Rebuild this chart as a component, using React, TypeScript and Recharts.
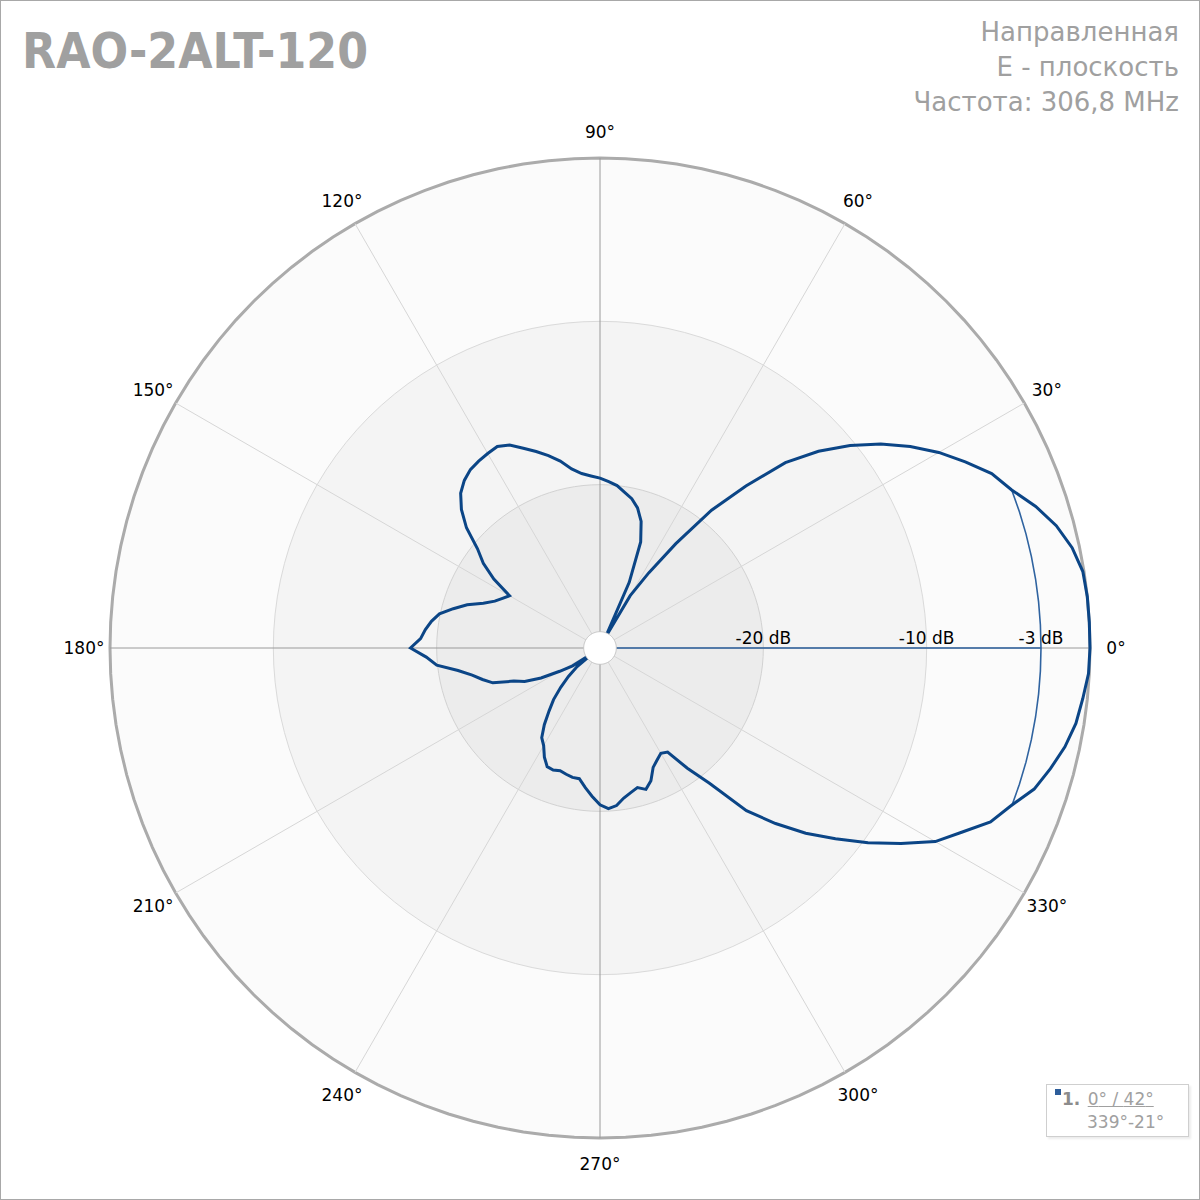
import React from "react";
import {
  RadarChart,
  Radar,
  PolarGrid,
  PolarAngleAxis,
  PolarRadiusAxis,
  Legend,
} from "recharts";

// measured every 3 degrees, counter-clockwise from 0°
const angles: number[] = [
  0, 3, 6, 9, 12, 15, 18, 21, 24, 27, 30, 33, 36, 39, 42, 45, 48, 51, 54, 57,
  60, 63, 66, 69, 72, 75, 78, 81, 84, 87, 90, 93, 96, 99, 102, 105, 108, 111, 114, 117,
  120, 123, 126, 129, 132, 135, 138, 141, 144, 147, 150, 153, 156, 159, 162, 165, 168, 171, 174, 177,
  180, 183, 186, 189, 192, 195, 198, 201, 204, 207, 210, 213, 216, 219, 222, 225, 228, 231, 234, 237,
  240, 243, 246, 249, 252, 255, 258, 261, 264, 267, 270, 273, 276, 279, 282, 285, 288, 291, 294, 297,
  300, 303, 306, 309, 312, 315, 318, 321, 324, 327, 330, 333, 336, 339, 342, 345, 348, 351, 354, 357,
];

// dB
const gain: number[] = [
  0, 0, 0, -0.07, -0.45, -1.08, -1.95, -3.0, -3.75, -4.9,
  -6.05, -7.35, -8.75, -10.3, -12.0, -13.95, -16.65, -19.15, -22.1, -24.5,
  -26.3, -29.3, -25.6, -23.05, -21.85, -21.12, -20.65, -20.35, -20.0, -19.8,
  -19.6, -19.45, -19.26, -18.9, -18.3, -17.8, -17.35, -16.9, -16.4, -16.15,
  -16.25, -16.36, -16.5, -16.8, -17.25, -18.0, -19.0, -20.35, -21.17, -22.25,
  -23.6, -23.3, -22.95, -22.35, -21.45, -20.7, -19.95, -19.55, -19.25, -19.0,
  -18.4, -19.35, -19.95, -21.2, -22.0, -22.55, -23.1, -24.35, -24.95, -25.95,
  -27.15, -28.0, -29.5, -28.2, -27.4, -26.6, -25.75, -25.05, -24.2, -23.45,
  -23.1, -22.5, -22.05, -22.0, -22.1, -22.0, -21.9, -21.9, -21.4, -20.9,
  -20.4, -20.15, -20.3, -20.7, -20.95, -21.15, -20.9, -21.3, -22.0, -22.3,
  -22.55, -22.4, -20.9, -19.35, -16.6, -14.8, -13.05, -11.45, -9.72, -8.03,
  -6.3, -5.15, -3.83, -3.05, -2.05, -1.45, -0.9, -0.5, -0.28, -0.05,
];

const labelAngles: number[] = [0, 30, 60, 90, 120, 150, 180, 210, 240, 270, 300, 330];
const axisAngles: number[] = [0, 90, 180, 270];
const radiusLabels: number[] = [-20, -10, -3];
const ringLevels: number[] = [0, -10, -20];
const floorLevel = -30;
const holeLevel = -29;
const halfPower = -3;
const mainDirection = 0;
const beamWidth = 42;
const beamFrom = 339;
const beamTo = 21;

const rows = angles.map((a, i) => ({
  angle: a,
  gain: gain[i],
  ring0: ringLevels[0],
  ring1: ringLevels[1],
  ring2: ringLevels[2],
  hole: holeLevel,
  hp: a >= beamFrom || a <= beamTo ? halfPower : undefined,
}));

const BLUE = "#0b4586";
const FONT = "'DejaVu Sans', Verdana, sans-serif";

const spokeAngles = labelAngles.filter((a) => !axisAngles.includes(a));

const AngleTick = (props: any) => {
  const { x, y, payload } = props;
  if (!labelAngles.includes(payload.value)) return null;
  return (
    <text x={x} y={y + 6} textAnchor="middle" fontSize={17} fontFamily={FONT} fill="#000">
      {payload.value}°
    </text>
  );
};

const RadiusTick = (props: any) => {
  const { x, y, payload } = props;
  return (
    <text x={x} y={y - 4} textAnchor="middle" fontSize={17} fontFamily={FONT} fill="#000">
      {payload.value} dB
    </text>
  );
};

// -3 dB arc plus the main direction line, drawn from the radar points
const HalfPowerShape = (props: any) => {
  const pts = (props.points || []).filter(
    (p: any) => p.payload && p.payload.hp != null && Number.isFinite(p.x) && Number.isFinite(p.y)
  );
  if (!pts.length) return null;
  const wrap = (a: number) => (a > 180 ? a - 360 : a);
  const sorted = [...pts].sort((a: any, b: any) => wrap(a.payload.angle) - wrap(b.payload.angle));
  const arc = sorted.map((p: any, i: number) => `${i ? "L" : "M"}${p.x},${p.y}`).join(" ");
  const main = sorted.find((p: any) => p.payload.angle === mainDirection);
  const line = main ? `M${main.cx},${main.cy} L${main.x},${main.y} ` : "";
  return <path d={line + arc} fill="none" stroke="#2f63a0" strokeWidth={1.6} />;
};

const LegendBox = () => (
  <div
    style={{
      width: 143,
      height: 53,
      boxSizing: "border-box",
      border: "1px solid #cfcfcf",
      boxShadow: "2px 2px 2px #ececec",
      background: "#fff",
      fontFamily: FONT,
      fontSize: 17,
      color: "#a0a0a0",
      position: "relative",
    }}
  >
    <div style={{ position: "absolute", left: 8, top: 4, width: 6, height: 6, background: "#2d5d9a" }} />
    <div style={{ position: "absolute", left: 15, top: 3, lineHeight: "22px", whiteSpace: "nowrap" }}>
      <span style={{ fontWeight: "bold", color: "#8c8c8c" }}>1.</span>{" "}
      <span style={{ textDecoration: "underline", marginLeft: 2 }}>
        {mainDirection}° / {beamWidth}°
      </span>
    </div>
    <div style={{ position: "absolute", left: 40, top: 26, lineHeight: "22px", whiteSpace: "nowrap" }}>
      {beamFrom}°-{beamTo}°
    </div>
  </div>
);

export default function App() {
  return (
    <div style={{ position: "absolute", left: 0, top: 0, width: 1200, height: 1200, background: "#fff" }}>
      <RadarChart
        width={1200}
        height={1200}
        data={rows}
        cx={600}
        cy={648}
        innerRadius={0}
        outerRadius={490}
        startAngle={0}
        endAngle={360}
        margin={{ top: 0, right: 0, bottom: 0, left: 0 }}
      >
        <PolarAngleAxis
          dataKey="angle"
          type="number"
          domain={[0, 360]}
          ticks={labelAngles}
          tick={AngleTick}
          tickSize={26}
          tickLine={false}
          axisLine={false}
        />
        <PolarRadiusAxis
          angle={0}
          type="number"
          domain={[floorLevel, 0]}
          ticks={radiusLabels}
          tick={RadiusTick}
          axisLine={false}
          tickLine={false}
        />
        <Radar dataKey="ring0" zIndex={-160} fill="#fbfbfb" fillOpacity={1} stroke="#ababab" strokeWidth={3} isAnimationActive={false} />
        <Radar dataKey="ring1" zIndex={-150} fill="#f4f4f4" fillOpacity={1} stroke="#dadada" strokeWidth={1} isAnimationActive={false} />
        <Radar dataKey="ring2" zIndex={-140} fill="#ececec" fillOpacity={1} stroke="#d2d2d2" strokeWidth={1} isAnimationActive={false} />
        <PolarGrid polarAngles={spokeAngles} polarRadius={[]} stroke="#d6d6d6" />
        <PolarGrid polarAngles={axisAngles} polarRadius={[]} stroke="#9a9a9a" />
        <Radar dataKey="hp" shape={HalfPowerShape} isAnimationActive={false} />
        <Radar dataKey="gain" name="1" fill="none" fillOpacity={0} stroke={BLUE} strokeWidth={3} isAnimationActive={false} />
        <Radar dataKey="hole" zIndex={150} fill="#ffffff" fillOpacity={1} stroke="#c4c4c4" strokeWidth={1} isAnimationActive={false} />
        <Legend
          layout="vertical"
          align="right"
          verticalAlign="bottom"
          content={LegendBox}
          wrapperStyle={{ left: 1046, top: 1084, width: 145, height: 55 }}
        />
      </RadarChart>
      <svg
        width={1200}
        height={1200}
        style={{ position: "absolute", left: 0, top: 0, pointerEvents: "none" }}
      >
        <rect x={0.5} y={0.5} width={1199} height={1199} fill="none" stroke="#a8a8a8" />
        <text x={22} y={68} fontFamily={FONT} fontWeight="bold" fontSize={50} fill="#a0a0a0" textLength={346} lengthAdjust="spacingAndGlyphs">
          RAO-2ALT-120
        </text>
        <text x={1179} y={41} textAnchor="end" fontFamily={FONT} fontSize={26} fill="#a0a0a0">
          Направленная
        </text>
        <text x={1179} y={76} textAnchor="end" fontFamily={FONT} fontSize={26} fill="#a0a0a0">
          E - плоскость
        </text>
        <text x={1179} y={111} textAnchor="end" fontFamily={FONT} fontSize={26} fill="#a0a0a0">
          Частота: 306,8 MHz
        </text>
      </svg>
    </div>
  );
}
